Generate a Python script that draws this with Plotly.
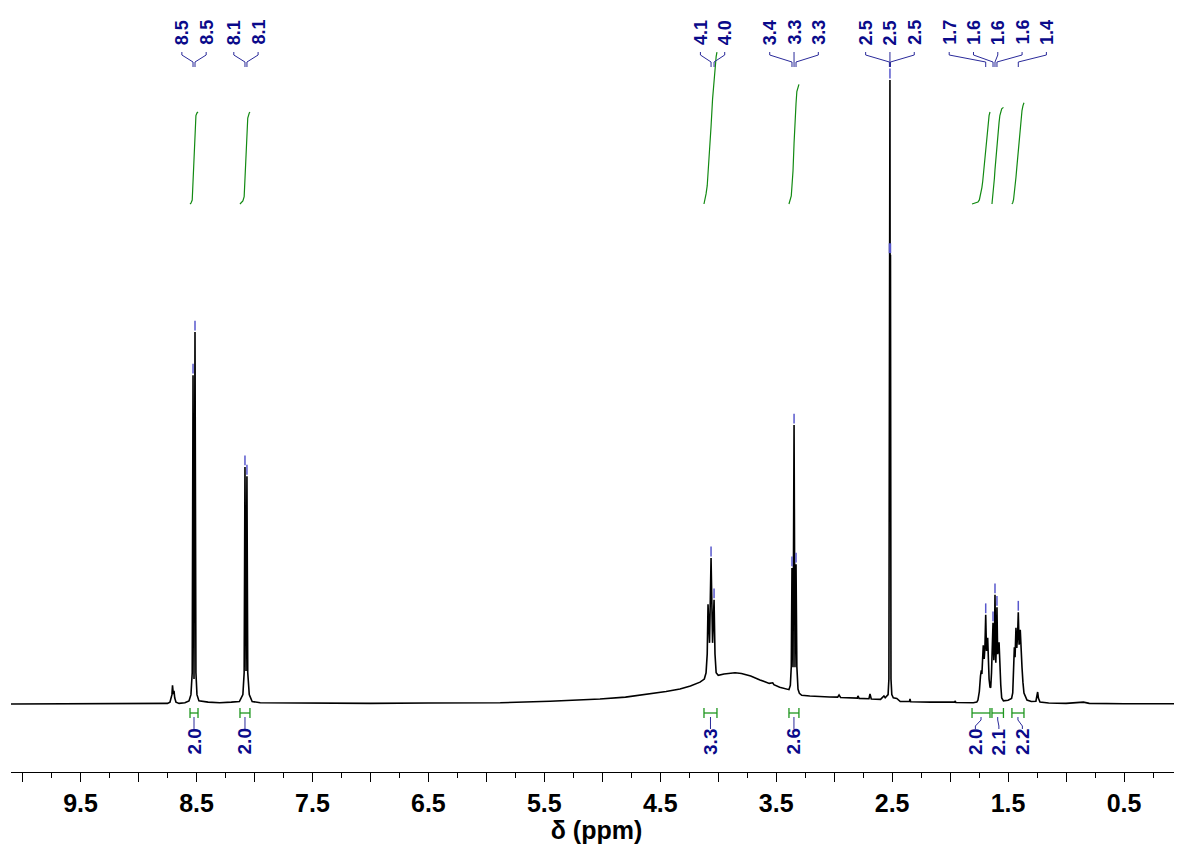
import numpy as np
import plotly.graph_objects as go

# ---------------- data ----------------
ppm = [10.10, 9.60, 9.20, 8.90, 8.75, 8.729, 8.712, 8.707, 8.700, 8.694, 8.688, 8.677, 8.65,
       8.60, 8.565, 8.548, 8.537, 8.530, 8.5215, 8.513, 8.505, 8.496, 8.479, 8.40, 8.30, 8.20,
       8.13, 8.10, 8.089, 8.082, 8.073, 8.065, 8.058, 8.045, 8.02, 7.95, 7.50, 7.00, 6.50, 6.00,
       5.88, 5.45, 5.02, 4.80, 4.59, 4.45, 4.33, 4.24, 4.157, 4.12, 4.105, 4.095, 4.088, 4.075,
       4.062, 4.049, 4.036, 4.028, 4.018, 4.00, 3.95, 3.90, 3.855, 3.80, 3.72, 3.64, 3.56, 3.53,
       3.52, 3.47, 3.42, 3.39, 3.378, 3.370, 3.364, 3.355, 3.346, 3.338, 3.329, 3.322, 3.312,
       3.30, 3.28, 3.21, 3.04, 2.97, 2.958, 2.945, 2.80, 2.795, 2.785, 2.70, 2.691, 2.680, 2.60,
       2.571, 2.560, 2.535, 2.528, 2.5235, 2.5213, 2.519, 2.5167, 2.5145, 2.510, 2.503, 2.49,
       2.46, 2.43, 2.35, 2.346, 2.34, 2.17, 1.96, 1.958, 1.95, 1.80, 1.770, 1.760, 1.748, 1.738,
       1.731, 1.726, 1.719, 1.714, 1.706, 1.700, 1.693, 1.686, 1.681, 1.676, 1.670, 1.664,
       1.656, 1.650, 1.643, 1.636, 1.630, 1.623, 1.618, 1.613, 1.606, 1.600, 1.596, 1.590,
       1.585, 1.578, 1.571, 1.563, 1.555, 1.54, 1.50, 1.470, 1.460, 1.453, 1.446, 1.440, 1.432,
       1.425, 1.418, 1.412, 1.405, 1.400, 1.395, 1.388, 1.380, 1.372, 1.363, 1.337, 1.30, 1.26,
       1.250, 1.245, 1.238, 1.225, 1.15, 1.00, 0.85, 0.80, 0.50, 0.20, 0.00]
intensity = [0.0, 0.05, 0.0, 0.05, 0.1, 0.3, 1.5, 3.0, 1.6, 2.1, 1.0, 0.3, 0.1,
             0.2, 0.5, 1.5, 5.0, 52.7, 4.0, 59.6, 5.0, 1.5, 0.5, 0.3, 0.2, 0.3,
             0.4, 1.5, 5.0, 38.0, 5.3, 36.5, 5.0, 1.5, 0.4, 0.2, 0.1, 0.1, 0.15, 0.2,
             0.2, 0.45, 0.8, 1.1, 1.6, 2.0, 2.4, 2.9, 3.5, 4.0, 5.0, 8.0, 16.0, 9.8,
             23.4, 9.8, 16.7, 8.0, 5.0, 4.6, 4.8, 4.95, 5.0, 4.9, 4.5, 3.85, 3.3, 3.4,
             3.1, 2.7, 2.4, 2.3, 3.0, 6.0, 21.8, 5.9, 44.7, 5.9, 22.4, 6.0, 2.4,
             1.7, 1.4, 1.28, 1.12, 1.1, 1.45, 1.05, 0.95, 1.3, 0.9, 0.85, 1.6, 0.8, 0.75,
             1.3, 1.0, 1.5, 4.0, 72.0, 50.0, 100.0, 50.0, 72.0, 4.0, 1.5, 1.0,
             0.9, 0.4, 0.4, 0.8, 0.35, 0.3, 0.3, 0.5, 0.25, 0.2, 0.3, 0.64, 2.0, 4.5,
             5.4, 4.8, 8.0, 9.4, 7.2, 9.0, 14.3, 8.5, 9.0, 10.6, 6.0, 4.0,
             2.7, 2.6, 5.0, 8.7, 13.0, 7.0, 9.0, 17.5, 6.6, 10.0, 15.5, 8.0,
             8.5, 9.9, 5.9, 3.0, 0.96, 0.5, 0.6, 0.9, 1.76, 5.0, 9.1, 7.5, 12.2,
             9.0, 11.0, 14.7, 9.5, 10.0, 11.9, 7.0, 5.9, 3.5, 1.76, 0.64, 0.4, 0.45,
             1.2, 1.92, 0.9, 0.3, 0.15, 0.1, 0.3, 0.1, 0.05, 0.05, 0.05]

peak_ppm = [8.530, 8.513, 8.082, 8.065, 4.062, 4.036, 3.364, 3.346, 3.329,
            2.5235, 2.519, 2.5145, 1.693, 1.630, 1.613, 1.596, 1.412]

int_start = [8.556, 8.125, 4.123, 3.390, 1.811, 1.639, 1.467]
int_end = [8.487, 8.039, 4.011, 3.304, 1.656, 1.540, 1.363]
int_value = [2.0, 2.0, 3.3, 2.6, 2.0, 2.1, 2.2]

tick_label_vals = [9.5, 8.5, 7.5, 6.5, 5.5, 4.5, 3.5, 2.5, 1.5, 0.5]

# ---------------- layout geometry (page pixels) ----------------
OFF = 8                        # page body margin of the html file
W, H = 1182 - OFF, 844 - OFF
AXIS_PX = 772                  # page row of the x axis line
ML, MR, MT = 11 - OFF, 0, 0
MB = H - (AXIS_PX - OFF)
PH = H - MT - MB               # plot height in px
X_RANGE = [10.1, 0.0]
PPM_PER_PX = (X_RANGE[0] - X_RANGE[1]) / (W - ML - MR)
BASE_PX = 704 - OFF            # baseline row (plot px)
Y_SCALE = 6.24                 # px per intensity unit
INT_BASE_PX = 204 - OFF        # integral curve baseline row
INT_SCALE = 46.0               # px per integral unit

NAVY = '#0a0a8a'
PICK = '#5858cc'
GREEN = '#1e961e'
FONT = 'Liberation Sans, Arial, sans-serif'

ppm_a = np.array(ppm)
int_a = np.array(intensity)


def row(page_y):
    return page_y - OFF


def spread(centers, spacing):
    """place labels around their peaks, merging groups that would overlap"""
    groups = [[i] for i in range(len(centers))]
    changed = True
    while changed:
        changed = False
        for g in range(len(groups) - 1):
            a, b = groups[g], groups[g + 1]
            ca = np.mean([centers[i] for i in a])
            cb = np.mean([centers[i] for i in b])
            right_a = ca - (len(a) - 1) / 2 * spacing
            left_b = cb + (len(b) - 1) / 2 * spacing
            if right_a - left_b < spacing:
                groups[g] = a + b
                del groups[g + 1]
                changed = True
                break
    pos = [0.0] * len(centers)
    for grp in groups:
        c = np.mean([centers[i] for i in grp])
        for k, i in enumerate(grp):
            pos[i] = c + ((len(grp) - 1) / 2 - k) * spacing
    return pos


fig = go.Figure()

# spectrum
fig.add_trace(go.Scatter(x=ppm, y=intensity, mode='lines',
                         line=dict(color='black', width=1.6), hoverinfo='skip'))

# peak pick marks
peak_top = np.interp(peak_ppm, ppm_a[::-1], int_a[::-1])
fig.add_trace(go.Scatter(x=peak_ppm, y=peak_top + 6.5 / Y_SCALE, mode='markers',
                         marker=dict(symbol='line-ns', size=7,
                                     line=dict(color=PICK, width=1.5)),
                         hoverinfo='skip'))

# integral curves
for s, e, v in zip(int_start, int_end, int_value):
    m = (ppm_a < s) & (ppm_a > e)
    xs = np.concatenate([[s], ppm_a[m], [e]])
    ys = np.interp(xs, ppm_a[::-1], int_a[::-1])
    cum = np.concatenate([[0], np.cumsum(np.abs(np.diff(xs)) * (ys[1:] + ys[:-1]) / 2)])
    fig.add_trace(go.Scatter(x=xs, y=cum / cum[-1] * v, mode='lines', yaxis='y2',
                             line=dict(color='#128a12', width=1.2), hoverinfo='skip'))

# top peak labels + connectors (y3 = plot pixel rows)
lab_pos = spread(peak_ppm, 24.3 * PPM_PER_PX)
cx, cy = [], []
for p, lp in zip(peak_ppm, lab_pos):
    cx += [lp, lp, p, p, None]
    cy += [row(52), row(55), row(62), row(67), None]
    fig.add_annotation(x=lp, y=row(32.5), xref='x', yref='y3', text=f'{p:.1f}',
                       textangle=-90, showarrow=False, xanchor='center', yanchor='middle',
                       font=dict(family=FONT, size=18, color=NAVY, weight='bold'))
fig.add_trace(go.Scatter(x=cx, y=cy, mode='lines', yaxis='y3',
                         line=dict(color='#2a2a9a', width=1), hoverinfo='skip'))

# integral brackets + labels
centers = [(s + e) / 2 for s, e in zip(int_start, int_end)]
ilab_pos = spread(centers, 23.5 * PPM_PER_PX)
gx, gy, bx, by = [], [], [], []
for s, e, v, c, lp in zip(int_start, int_end, int_value, centers, ilab_pos):
    gx += [s, s, None, s, e, None, e, e, None]
    gy += [row(708), row(718), None, row(713), row(713), None, row(708), row(718), None]
    bx += [c, c, lp, lp, None]
    by += [row(717), row(720), row(726), row(729), None]
    fig.add_annotation(x=lp, y=row(741.5), xref='x', yref='y3', text=f'{v:.1f}',
                       textangle=-90, showarrow=False, xanchor='center', yanchor='middle',
                       font=dict(family=FONT, size=19, color=NAVY, weight='bold'))
fig.add_trace(go.Scatter(x=gx, y=gy, mode='lines', yaxis='y3',
                         line=dict(color=GREEN, width=1.3), hoverinfo='skip'))
fig.add_trace(go.Scatter(x=bx, y=by, mode='lines', yaxis='y3',
                         line=dict(color='#2a2a9a', width=1), hoverinfo='skip'))

major_vals = [round(v * 0.5, 2) for v in range(0, 21)]
major_text = [f'{v:.1f}' if v in tick_label_vals else '' for v in major_vals]

fig.update_layout(
    width=W, height=H, margin=dict(l=ML, r=MR, t=MT, b=MB),
    paper_bgcolor='white', plot_bgcolor='white', showlegend=False,
    font=dict(family=FONT, color='black'),
    xaxis=dict(range=X_RANGE, tickmode='array', tickvals=major_vals, ticktext=major_text,
               ticks='outside', ticklen=9, tickwidth=1.3, tickcolor='black',
               showline=True, linecolor='black', linewidth=1.3, showgrid=False,
               zeroline=False, ticklabelstandoff=0,
               tickfont=dict(family=FONT, size=25, color='black', weight='bold'),
               minor=dict(dtick=0.25, tick0=0, ticklen=5, tickwidth=1.3,
                          tickcolor='black', ticks='outside'),
               title=dict(text='δ (ppm)', standoff=0,
                          font=dict(family=FONT, size=25, color='black', weight='bold'))),
    yaxis=dict(range=[-(PH - BASE_PX) / Y_SCALE, BASE_PX / Y_SCALE], visible=False),
    yaxis2=dict(range=[-(PH - INT_BASE_PX) / INT_SCALE, INT_BASE_PX / INT_SCALE],
                overlaying='y', visible=False),
    yaxis3=dict(range=[PH, 0], overlaying='y', visible=False),
)

fig.write_html('out.html')
